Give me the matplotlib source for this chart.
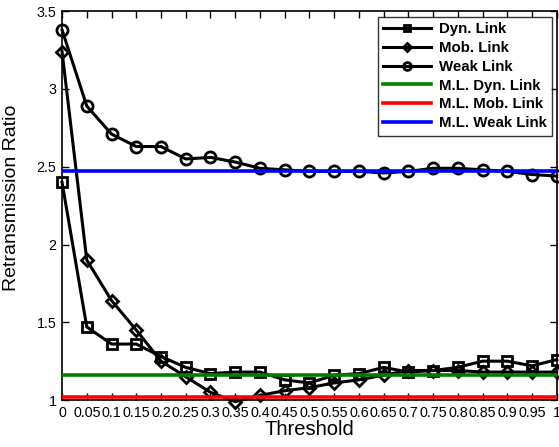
import matplotlib
matplotlib.use("Agg")
import matplotlib.pyplot as plt
import numpy as np

plt.rcParams['font.family'] = ['Liberation Sans', 'DejaVu Sans']

thresholds = [0, 0.05, 0.1, 0.15, 0.2, 0.25, 0.3, 0.35, 0.4, 0.45, 0.5,
              0.55, 0.6, 0.65, 0.7, 0.75, 0.8, 0.85, 0.9, 0.95, 1.0]
dyn_link = [2.40, 1.47, 1.36, 1.36, 1.28, 1.21, 1.17, 1.18, 1.18, 1.13, 1.11,
            1.16, 1.17, 1.21, 1.18, 1.19, 1.21, 1.25, 1.25, 1.22, 1.26]
mob_link = [3.24, 1.90, 1.64, 1.45, 1.25, 1.15, 1.05, 0.99, 1.03, 1.06, 1.08,
            1.11, 1.13, 1.16, 1.19, 1.19, 1.19, 1.18, 1.18, 1.18, 1.18]
weak_link = [3.38, 2.89, 2.71, 2.63, 2.63, 2.55, 2.56, 2.53, 2.49, 2.48, 2.47,
             2.47, 2.47, 2.46, 2.47, 2.49, 2.49, 2.48, 2.47, 2.45, 2.44]
ml_dyn = 1.158
ml_mob = 1.021
ml_weak = 2.474
xtick_labels = ['0', '0.05', '0.1', '0.15', '0.2', '0.25', '0.3', '0.35', '0.4',
                '0.45', '0.5', '0.55', '0.6', '0.65', '0.7', '0.75', '0.8',
                '0.85', '0.9', '0.95', '1']
yticks = [1, 1.5, 2, 2.5, 3, 3.5]

fig = plt.figure(figsize=(5.59, 4.47), dpi=100)
ax = fig.add_axes([0.111, 0.105, 0.885, 0.870])

common = dict(color='black', lw=2.2, mfc='none', mec='black', mew=2.0, clip_on=False, zorder=3)
ax.plot(thresholds, dyn_link, marker='s', ms=7, label='Dyn. Link', **common)
ax.plot(thresholds, mob_link, marker='D', ms=6.5, label='Mob. Link', **common)
ax.plot(thresholds, weak_link, marker='o', ms=8, label='Weak Link', **common)
ax.axhline(ml_dyn, color='#008000', lw=2.6, label='M.L. Dyn. Link', zorder=4)
ax.axhline(ml_mob, color='#ff0000', lw=2.6, label='M.L. Mob. Link', zorder=4)
ax.axhline(ml_weak, color='#0000ff', lw=2.6, label='M.L. Weak Link', zorder=4)

ax.set_xlim(0, 1)
ax.set_ylim(1, 3.5)
ax.set_xticks(thresholds)
ax.set_xticklabels(xtick_labels)
ax.set_yticks(yticks)
ax.set_yticklabels(['1', '1.5', '2', '2.5', '3', '3.5'])
ax.tick_params(direction='in', top=True, right=True, length=5, width=1,
               labelsize=10.3, pad=4)
for s in ax.spines.values():
    s.set_linewidth(1.2)
ax.set_xlabel('Threshold', fontsize=14.5, labelpad=0)
ax.set_ylabel('Retransmission Ratio', fontsize=14, labelpad=5)
ax.yaxis.set_label_coords(-0.085, 0.52)

leg = ax.legend(loc='upper right', bbox_to_anchor=(0.99, 0.985),
                prop={'weight': 'bold', 'size': 10.8}, frameon=True,
                fancybox=False, edgecolor='black', handlelength=3.2,
                labelspacing=0.32, borderpad=0.35, handletextpad=0.5,
                borderaxespad=0.0, markerscale=0.7)
leg.get_frame().set_linewidth(1.0)

fig.savefig('out.png', dpi=100)
